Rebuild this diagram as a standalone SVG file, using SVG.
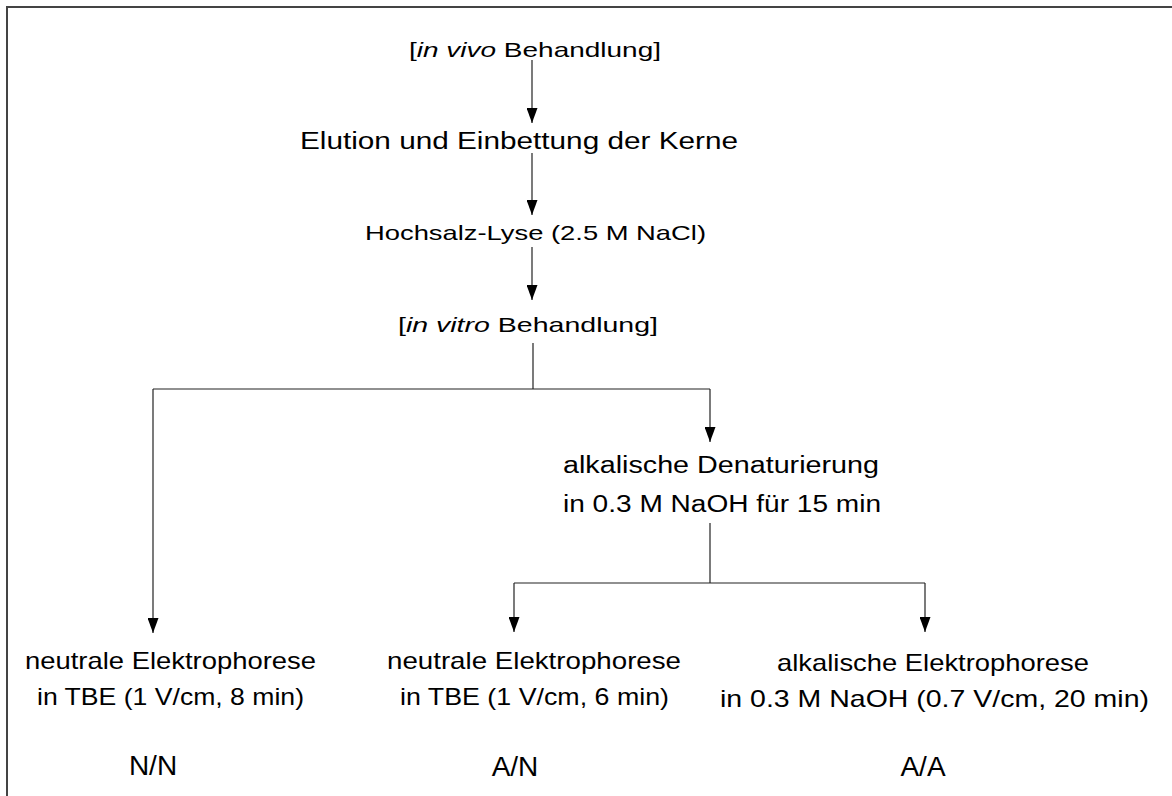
<svg xmlns="http://www.w3.org/2000/svg" width="1172" height="796" viewBox="0 0 1172 796">
<style>
  text { font-family: "Liberation Sans", Arial, sans-serif; fill: #000; }
  .s21 { font-size: 21px; }
  .s23 { font-size: 23px; }
  .s24 { font-size: 24px; }
  .lab { font-size: 28px; }
  .it { font-style: italic; }
  .conn line, .conn polyline { stroke: #222; stroke-width: 1.2; fill: none; }
  .frame { stroke: #444; stroke-width: 2; fill: none; }
</style>
<defs>
  <marker id="arr" markerUnits="userSpaceOnUse" markerWidth="15" markerHeight="11" refX="15" refY="5.5" orient="auto">
    <path d="M0,0 L15,5.5 L0,11 z" fill="#000"/>
  </marker>
</defs>
<rect width="1172" height="796" fill="#fff"/>
<path class="frame" d="M7,796 V7 H1172"/>

<g class="conn" id="connectors">
  <line x1="532" y1="60" x2="532" y2="123" marker-end="url(#arr)"/>
  <line x1="532" y1="153" x2="532" y2="215" marker-end="url(#arr)"/>
  <line x1="532" y1="247" x2="532" y2="300" marker-end="url(#arr)"/>
  <line x1="533" y1="343" x2="533" y2="389"/>
  <line x1="153" y1="389" x2="710" y2="389"/>
  <line x1="153" y1="389" x2="153" y2="633" marker-end="url(#arr)"/>
  <line x1="710" y1="389" x2="710" y2="442" marker-end="url(#arr)"/>
  <line x1="710" y1="523" x2="710" y2="583"/>
  <line x1="514" y1="583" x2="925" y2="583"/>
  <line x1="514" y1="583" x2="514" y2="632" marker-end="url(#arr)"/>
  <line x1="925" y1="583" x2="925" y2="632" marker-end="url(#arr)"/>
</g>

<g id="n_invivo">
  <text class="s21" x="409" y="57" textLength="252" lengthAdjust="spacingAndGlyphs">[<tspan class="it">in vivo</tspan> Behandlung]</text>
</g>
<g id="n_elution">
  <text class="s23" x="300" y="149" textLength="438" lengthAdjust="spacingAndGlyphs">Elution und Einbettung der Kerne</text>
</g>
<g id="n_lyse">
  <text class="s21" x="365" y="240" textLength="341" lengthAdjust="spacingAndGlyphs">Hochsalz-Lyse (2.5 M NaCl)</text>
</g>
<g id="n_invitro">
  <text class="s21" x="398" y="332" textLength="260" lengthAdjust="spacingAndGlyphs">[<tspan class="it">in vitro</tspan> Behandlung]</text>
</g>
<g id="n_denat">
  <text class="s23" x="563" y="473" textLength="316" lengthAdjust="spacingAndGlyphs">alkalische Denaturierung</text>
  <text class="s23" x="563" y="512" textLength="318" lengthAdjust="spacingAndGlyphs">in 0.3 M NaOH für 15 min</text>
</g>
<g id="n_nn">
  <text class="s24" x="25" y="669" textLength="291" lengthAdjust="spacingAndGlyphs">neutrale Elektrophorese</text>
  <text class="s24" x="37" y="705" textLength="267" lengthAdjust="spacingAndGlyphs">in TBE (1 V/cm, 8 min)</text>
  <text class="lab" x="153" y="775" text-anchor="middle">N/N</text>
</g>
<g id="n_an">
  <text class="s24" x="387" y="669" textLength="294" lengthAdjust="spacingAndGlyphs">neutrale Elektrophorese</text>
  <text class="s24" x="400" y="705" textLength="269" lengthAdjust="spacingAndGlyphs">in TBE (1 V/cm, 6 min)</text>
  <text class="lab" x="515" y="776" text-anchor="middle">A/N</text>
</g>
<g id="n_aa">
  <text class="s24" x="777" y="671" textLength="312" lengthAdjust="spacingAndGlyphs">alkalische Elektrophorese</text>
  <text class="s24" x="720" y="707" textLength="429" lengthAdjust="spacingAndGlyphs">in 0.3 M NaOH (0.7 V/cm, 20 min)</text>
  <text class="lab" x="923" y="776" text-anchor="middle">A/A</text>
</g>
</svg>
